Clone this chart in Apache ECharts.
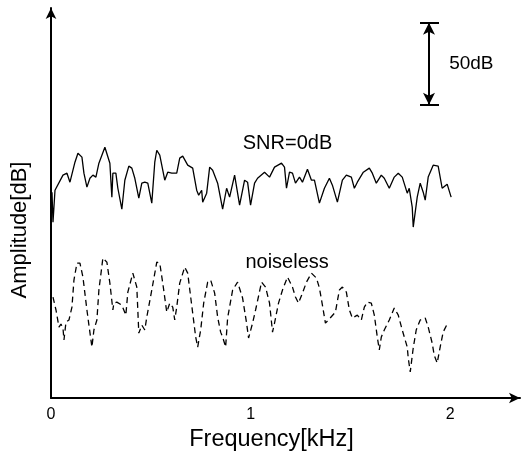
<!DOCTYPE html>
<html>
<head>
<meta charset="utf-8">
<script src="https://cdn.jsdelivr.net/npm/echarts@6/dist/echarts.min.js"></script>
<style>
	html, body { margin: 0; padding: 0; background: #fff; }
	#chart { width: 523px; height: 453px; }
</style>
</head>
<body>
<div id="chart"></div>
<script>
// frequency in Hz, amplitude in dB (arbitrary offset)
const noisyFreq = [5, 10, 20, 60, 80, 95, 105, 120, 135, 155, 165, 180, 195, 210, 225, 240, 270, 280, 295, 305, 310, 325, 335, 355, 370, 390, 405, 420, 440, 455, 470, 485, 505, 520, 530, 545, 570, 585, 605, 630, 645, 660, 685, 710, 730, 740, 755, 760, 780, 795, 810, 835, 860, 880, 895, 920, 945, 970, 985, 1000, 1020, 1035, 1070, 1095, 1120, 1155, 1170, 1180, 1195, 1210, 1225, 1245, 1260, 1285, 1305, 1320, 1345, 1370, 1395, 1410, 1435, 1460, 1480, 1505, 1520, 1535, 1565, 1595, 1610, 1630, 1655, 1670, 1695, 1720, 1740, 1760, 1785, 1795, 1810, 1815, 1835, 1850, 1865, 1875, 1890, 1915, 1940, 1960, 1965, 1985, 2005];
const noisyDb = [125.6, 107.3, 126.8, 136.0, 137.2, 131.7, 132.9, 143.9, 149.4, 147.0, 137.2, 128.7, 134.1, 136.0, 134.8, 143.3, 153.0, 152.4, 143.3, 122.6, 137.2, 137.2, 128.0, 115.2, 132.9, 141.5, 140.3, 134.1, 122.0, 131.1, 131.7, 131.1, 118.9, 143.9, 151.2, 148.2, 132.9, 137.8, 137.2, 137.2, 146.4, 147.6, 142.1, 140.3, 126.8, 123.8, 126.8, 119.5, 125.0, 140.9, 139.0, 131.1, 115.2, 128.0, 122.6, 136.0, 117.7, 132.9, 131.7, 117.7, 131.1, 134.1, 137.8, 134.8, 140.9, 143.3, 140.9, 128.0, 137.8, 137.2, 131.1, 134.8, 131.7, 139.6, 132.9, 132.9, 118.9, 128.0, 134.1, 129.9, 119.5, 132.9, 136.0, 134.8, 128.0, 131.7, 137.8, 140.3, 137.2, 131.1, 136.0, 134.1, 128.0, 134.8, 137.2, 134.8, 125.0, 128.0, 116.5, 104.3, 122.6, 131.1, 125.6, 120.7, 134.8, 142.1, 141.5, 128.0, 126.8, 130.5, 122.6];

const cleanFreq = [10, 25, 40, 50, 60, 65, 75, 90, 105, 115, 130, 145, 160, 180, 190, 205, 215, 230, 240, 260, 280, 295, 310, 315, 330, 355, 375, 385, 410, 430, 440, 455, 470, 480, 505, 530, 545, 560, 580, 595, 610, 620, 630, 645, 670, 685, 710, 725, 735, 750, 765, 785, 800, 820, 835, 850, 860, 875, 885, 910, 935, 960, 980, 990, 1010, 1025, 1055, 1075, 1095, 1110, 1120, 1140, 1160, 1185, 1210, 1225, 1240, 1260, 1280, 1305, 1330, 1345, 1360, 1375, 1390, 1425, 1445, 1460, 1480, 1495, 1510, 1535, 1555, 1570, 1585, 1605, 1620, 1635, 1645, 1655, 1670, 1695, 1720, 1740, 1760, 1785, 1790, 1800, 1815, 1830, 1850, 1875, 1890, 1910, 1920, 1935, 1950, 1965, 1990];
const cleanDb = [61.6, 53.7, 43.3, 45.1, 42.7, 35.4, 46.3, 47.6, 55.5, 72.0, 82.3, 82.3, 73.8, 53.7, 44.5, 31.1, 41.5, 47.6, 65.9, 85.4, 82.9, 70.1, 53.7, 57.9, 58.5, 56.7, 50.6, 64.6, 76.2, 67.7, 39.6, 44.5, 41.5, 49.4, 65.9, 82.9, 82.3, 70.1, 52.4, 57.9, 55.5, 47.6, 55.5, 70.1, 79.9, 76.2, 51.8, 37.2, 31.1, 41.5, 57.9, 70.7, 72.0, 64.0, 49.4, 40.2, 37.2, 31.1, 48.8, 65.9, 70.7, 61.0, 45.7, 36.6, 45.7, 53.7, 70.7, 67.7, 57.9, 40.2, 45.7, 57.9, 65.9, 73.8, 67.7, 61.6, 57.9, 64.0, 70.7, 76.2, 73.2, 67.1, 56.7, 45.7, 47.6, 52.4, 65.9, 67.7, 64.6, 53.7, 48.8, 50.6, 47.6, 55.5, 58.5, 57.9, 50.6, 37.2, 29.3, 37.2, 41.5, 47.6, 54.9, 50.6, 41.5, 31.1, 24.4, 15.9, 30.5, 41.5, 47.6, 48.8, 43.3, 33.5, 26.2, 21.3, 31.1, 40.2, 46.3];

const xTicks = ["0", "1", "2"];

// 50 dB scale bar
const barFreq = 1894;
const barCap = [1849, 1944];
const barDb = [179, 229];
const barLabelPos = [1995, 204];

const font = '"Liberation Sans", Arial, Helvetica, sans-serif';

const chart = echarts.init(document.getElementById("chart"));

const zip = (xs, ys) => xs.map((x, i) => [x, ys[i]]);

const option = {
	animation: false,
	grid: {
		left: 51,
		right: 3,
		top: 8,
		bottom: 55,
		outerBoundsMode: "none"
	},
	xAxis: {
		type: "value",
		min: 0,
		max: 2350,
		interval: 1000,
		name: "Frequency[kHz]",
		nameLocation: "middle",
		nameGap: 27,
		nameTextStyle: {
			fontFamily: font,
			fontSize: 23.5,
			color: "#000",
			padding: [0, 28, 0, 0]
		},
		axisLine: {
			show: true,
			symbol: ["none", "arrow"],
			symbolSize: [8, 11],
			lineStyle: { color: "#000", width: 2 }
		},
		axisTick: { show: false },
		splitLine: { show: false },
		axisLabel: {
			margin: 9,
			fontFamily: font,
			fontSize: 16,
			color: "#000",
			showMaxLabel: false,
			formatter(v) {
				return xTicks[Math.round(v / 1000)] ?? "";
			}
		}
	},
	yAxis: {
		type: "value",
		min: 0,
		max: 238,
		name: "Amplitude[dB]",
		nameLocation: "middle",
		nameGap: 20,
		nameTextStyle: {
			fontFamily: font,
			fontSize: 22,
			color: "#000",
			padding: [0, 54, 0, 0]
		},
		axisLine: {
			show: true,
			symbol: ["none", "arrow"],
			symbolSize: [8, 11],
			lineStyle: { color: "#000", width: 2 }
		},
		axisTick: { show: false },
		axisLabel: { show: false },
		splitLine: { show: false }
	},
	series: [
		{
			name: "SNR=0dB",
			type: "line",
			data: zip(noisyFreq, noisyDb),
			showSymbol: false,
			lineStyle: { color: "#000", width: 1.3 },
			markPoint: {
				symbol: "circle",
				symbolSize: 0,
				data: [{ coord: [1185, 155.5] }],
				label: {
					show: true,
					formatter: "SNR=0dB",
					fontFamily: font,
					fontSize: 20,
					color: "#000"
				}
			},
			markLine: {
				silent: true,
				symbol: "none",
				lineStyle: { color: "#000", width: 2, type: "solid" },
				label: { show: false },
				data: [
					[{ coord: [barCap[0], barDb[0]] }, { coord: [barCap[1], barDb[0]] }],
					[{ coord: [barCap[0], barDb[1]] }, { coord: [barCap[1], barDb[1]] }]
				]
			}
		},
		{
			name: "noiseless",
			type: "line",
			data: zip(cleanFreq, cleanDb),
			showSymbol: false,
			lineStyle: { color: "#000", width: 1.3, type: [6, 4] },
			markPoint: {
				symbol: "circle",
				symbolSize: 0,
				data: [{ coord: [1183, 83] }],
				label: {
					show: true,
					formatter: "noiseless",
					fontFamily: font,
					fontSize: 20,
					color: "#000"
				}
			}
		},
		{
			name: "scale",
			type: "line",
			data: [],
			markLine: {
				silent: true,
				symbol: ["arrow", "arrow"],
				symbolSize: [9, 12],
				lineStyle: { color: "#000", width: 2, type: "solid" },
				label: { show: false },
				data: [
					[{ coord: [barFreq, barDb[0]] }, { coord: [barFreq, barDb[1]] }]
				]
			},
			markPoint: {
				symbol: "circle",
				symbolSize: 0,
				data: [{ coord: barLabelPos }],
				label: {
					show: true,
					position: "right",
					distance: 0,
					formatter: "50dB",
					fontFamily: font,
					fontSize: 19,
					color: "#000"
				}
			}
		}
	]
};

option && chart.setOption(option);
</script>
</body>
</html>
